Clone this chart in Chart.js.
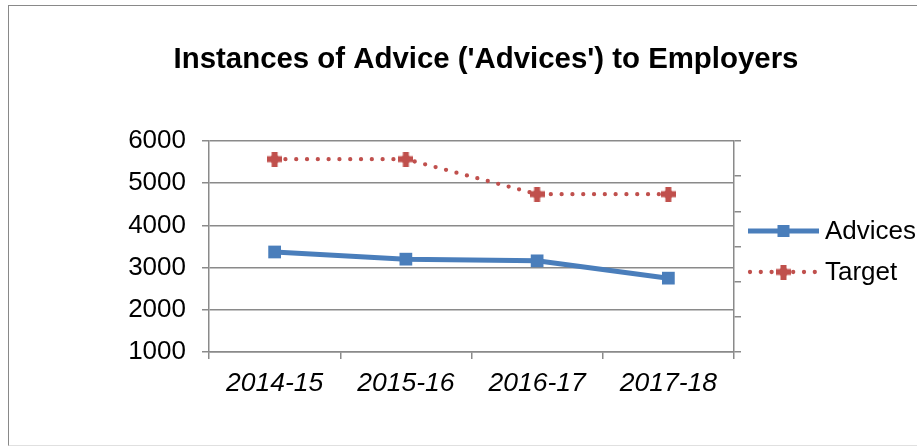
<!DOCTYPE html>
<html>
<head>
<meta charset="utf-8">
<script src="https://cdn.jsdelivr.net/npm/chart.js@4"></script>
<style>
    html, body { margin: 0; padding: 0; background: #fff; }
    #wrap { position: relative; width: 917px; height: 447px; overflow: hidden; }
    #frame {
        position: absolute; left: 8px; top: 5px; width: 1000px; height: 439px;
        border-left: 1.5px solid #898989; border-top: 1.5px solid #898989; border-bottom: 1px solid #e0e0e0;
    }
    canvas { position: absolute; left: 0; top: 0; }
</style>
</head>
<body>
<div id="wrap">
    <div id="frame"></div>
    <canvas id="chart" width="917" height="447"></canvas>
</div>
<script>
// chart data
const categories = ['2014-15', '2015-16', '2016-17', '2017-18'];
const advices = [3370, 3200, 3160, 2750];
const target = [5570, 5570, 4740, 4740];
const yTicks = [1000, 2000, 3000, 4000, 5000, 6000];
const seriesNames = ['Advices', 'Target'];
const chartTitle = "Instances of Advice ('Advices') to Employers";

const FONT = "'Liberation Sans', Arial, sans-serif";
const GRID = '#8a8a8a';
const BLUE = '#4A7EBB';
const RED = '#C0504D';

// filled plus-shaped marker for the Target series
function plusMarker(size, color) {
    const c = document.createElement('canvas');
    c.width = size; c.height = size;
    const g = c.getContext('2d');
    const m = size / 2, arm = size * 0.2, d = size * 0.33;
    g.fillStyle = color;
    g.fillRect(m - arm, 0, arm * 2, size);
    g.fillRect(0, m - arm, size, arm * 2);
    g.beginPath();
    g.moveTo(m, m - d - 1.5);
    g.lineTo(m + d + 1.5, m);
    g.lineTo(m, m + d + 1.5);
    g.lineTo(m - d - 1.5, m);
    g.closePath();
    g.fill();
    return c;
}
const targetMarker = plusMarker(15, RED);

// title centred over the whole chart frame, as in the spreadsheet
const frameTitle = {
    id: 'frameTitle',
    afterDraw(chart) {
        const ctx = chart.ctx;
        ctx.save();
        ctx.fillStyle = '#000';
        ctx.font = 'bold 29.4px ' + FONT;
        ctx.textAlign = 'center';
        ctx.textBaseline = 'middle';
        ctx.fillText(chartTitle, 486, 60);
        ctx.restore();
    }
};

// legend drawn like the spreadsheet one: line with marker in the middle
const sideLegend = {
    id: 'sideLegend',
    afterDraw(chart) {
        const ctx = chart.ctx;
        const x0 = 748, x1 = 819, tx = 825;
        const rows = [231, 272];
        ctx.save();
        chart.data.datasets.forEach((ds, i) => {
            const y = rows[i];
            ctx.strokeStyle = ds.borderColor;
            ctx.lineWidth = ds.borderWidth;
            ctx.lineCap = ds.borderCapStyle || 'butt';
            ctx.setLineDash(ds.borderDash || []);
            ctx.beginPath();
            ctx.moveTo(x0 + (i ? 2 : 0), y);
            ctx.lineTo(x1, y);
            ctx.stroke();
            ctx.setLineDash([]);
            const mx = (x0 + x1) / 2;
            if (ds.pointStyle === 'rect') {
                ctx.fillStyle = ds.borderColor;
                ctx.fillRect(mx - 6, y - 6, 12, 12);
            } else {
                ctx.drawImage(ds.pointStyle, mx - 7.5, y - 7.5);
            }
            ctx.fillStyle = '#000';
            ctx.font = '26px ' + FONT;
            ctx.textBaseline = 'middle';
            ctx.fillText(ds.label, tx, y + 1);
        });
        ctx.restore();
    }
};

new Chart(document.getElementById('chart'), {
    type: 'line',
    data: {
        labels: categories,
        datasets: [{
            label: seriesNames[0],
            data: advices,
            borderColor: BLUE,
            backgroundColor: BLUE,
            borderWidth: 5,
            pointStyle: 'rect',
            pointRadius: 9,
            pointHoverRadius: 9,
            pointBorderWidth: 0,
            tension: 0
        }, {
            label: seriesNames[1],
            data: target,
            borderColor: RED,
            backgroundColor: RED,
            borderWidth: 4.3,
            borderDash: [0, 10.8],
            borderCapStyle: 'round',
            pointStyle: targetMarker,
            pointRadius: 7,
            tension: 0
        }]
    },
    options: {
        responsive: false,
        animation: false,
        layout: { padding: { left: 0, right: 0, top: 141, bottom: 0 } },
        plugins: {
            legend: { display: false },
            tooltip: { enabled: false },
            title: { display: false }
        },
        scales: {
            x: {
                offset: true,
                grid: { offset: true, drawOnChartArea: false, color: GRID, tickLength: 7, lineWidth: 1.5 },
                border: { color: GRID, width: 1.5 },
                ticks: {
                    color: '#000', padding: 9, maxRotation: 0,
                    font: { family: FONT, size: 26.5, style: 'italic' }
                },
                afterFit(s) { s.height = 95; }
            },
            y: {
                min: 1000, max: 6000,
                afterBuildTicks(s) { s.ticks = yTicks.map(v => ({ value: v })); },
                grid: { color: GRID, tickLength: 7, lineWidth: 1.5 },
                border: { color: GRID, width: 1.5 },
                ticks: {
                    color: '#000', padding: 16,
                    font: { family: FONT, size: 26 },
                    callback: v => String(v)
                },
                afterFit(s) { s.width = 209; }
            },
            y2: {
                position: 'right',
                min: 0, max: 6,
                ticks: { display: false, stepSize: 1 },
                grid: { drawOnChartArea: false, color: GRID, tickLength: 7, lineWidth: 1.5 },
                border: { color: GRID, width: 1.5 },
                afterFit(s) { s.width = 183; }
            }
        }
    },
    plugins: [frameTitle, sideLegend]
});
</script>
</body>
</html>
